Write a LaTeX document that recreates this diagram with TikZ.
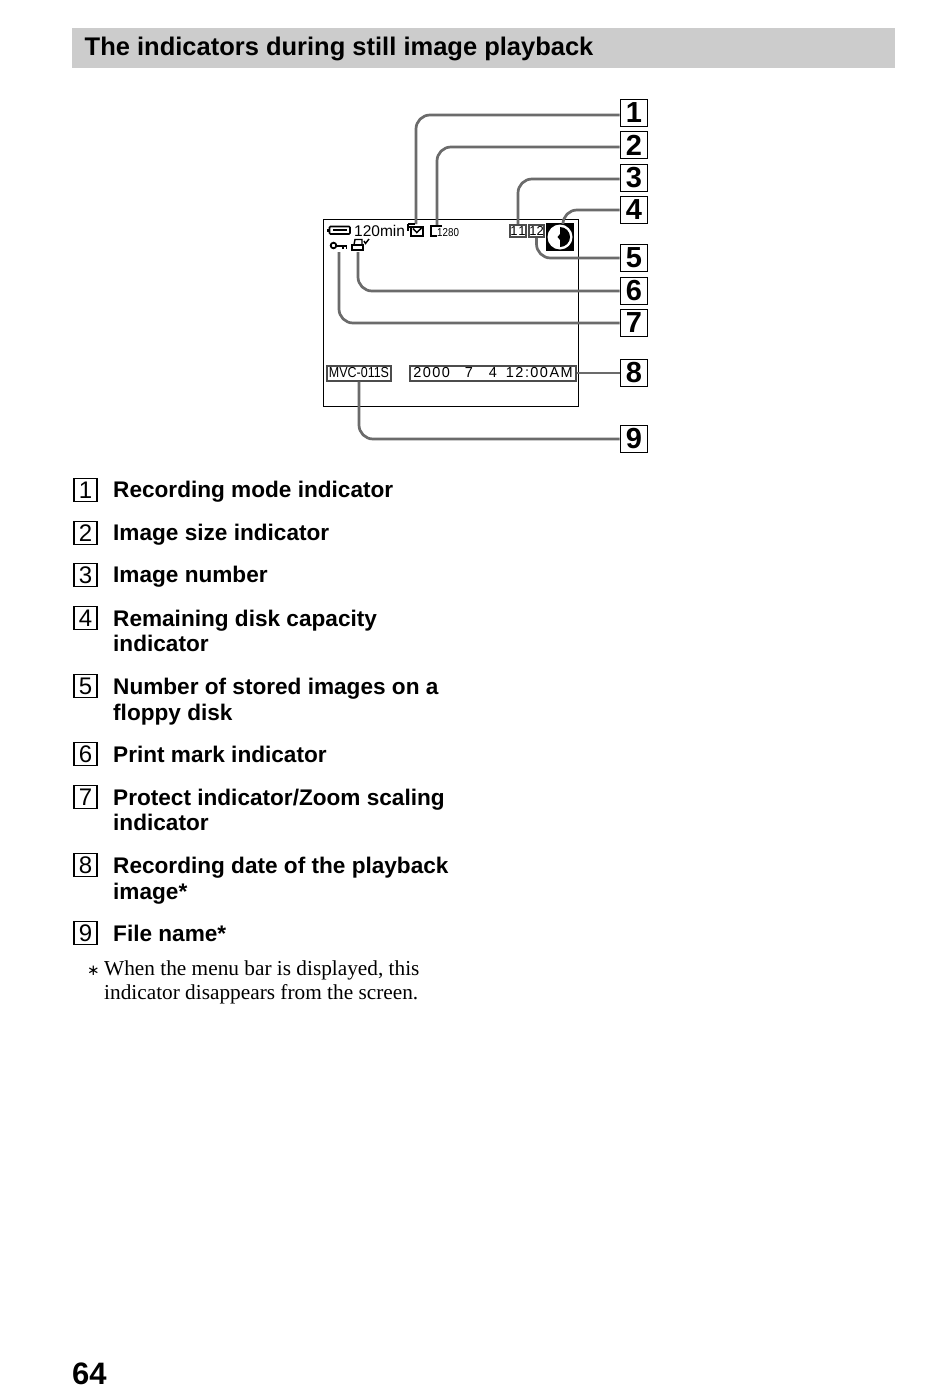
\documentclass[tikz,border=0pt]{standalone}
\usepackage{fontspec}
\setmainfont{Liberation Sans}
\newfontfamily\serifface{Liberation Serif}
\newfontfamily\symface{DejaVu Sans}
\newfontfamily\lcdface[LetterSpace=10]{Liberation Sans}
\usetikzlibrary{calc}
\definecolor{band}{gray}{0.80}
\definecolor{leader}{gray}{0.42}
\newcommand{\fs}[1]{\fontsize{#1}{#1}\selectfont}
\tikzset{
  keybox/.style={draw=black,line width=1.6pt,fill=white,minimum width=27pt,minimum height=27pt,inner sep=0pt,font=\bfseries\fs{29}},
  legendbox/.style={draw=black,line width=1.2pt,minimum width=23pt,minimum height=23pt,inner sep=0pt,font=\fs{24}},
  legendtext/.style={anchor=base west,inner sep=0pt,font=\bfseries\fs{22.6}},
  notetext/.style={anchor=base west,inner sep=0pt,font=\serifface\fs{21.3}},
  leaderline/.style={draw=leader,line width=2.7pt,rounded corners=14pt},
  lcdbox/.style={draw=black!70,line width=2pt,fill=white,inner sep=0pt,minimum height=15pt},
  smallbox/.style={lcdbox,minimum width=15pt,minimum height=12pt,font=\fs{13}},
  icon/.style={draw=black,line width=1.6pt},
}
\begin{document}
\begin{tikzpicture}[x=1pt,y=-1pt]
\useasboundingbox (0,0) rectangle (950,1390);
\fill[white] (0,0) rectangle (950,1390);
% heading
\node[fill=band,minimum width=823pt,minimum height=40pt,inner sep=0pt,anchor=north west] (band) at (72,28) {};
\node[anchor=base west,inner sep=0pt,font=\bfseries\fs{25.5}] (title) at (84.5,55.5) {The indicators during still image playback};
% screen
\node[draw=black,line width=1.4pt,minimum width=254.5pt,minimum height=187pt,inner sep=0pt,anchor=north west] (screen) at (323,218.5) {};
% indicator end points
\coordinate (recmode) at (416,224);
\coordinate (imgsize) at (437,225);
\coordinate (keyicon) at (339,252);
\coordinate (printicon) at (358,252);
% key boxes
\foreach \n/\y in {1/113,2/145,3/178,4/210,5/258,6/291,7/323,8/373,9/439}
  \node[keybox] (k\n) at (634,\y) {\n};
% lcd boxes
\node[smallbox] (num11) at (518,231) {1\hspace{1pt}1};
\node[smallbox] (num12) at (536.5,231) {12};
\node[lcdbox,minimum width=64pt,font=\fs{14.5}] (filename) at (359,373) {\scalebox{0.86}[1]{MVC-011S}};
\node[lcdbox,minimum width=166pt,font=\lcdface\fs{14.5}] (recdate) at (493,373) {2000\hspace{15pt}7\hspace{16pt}4\hspace{9pt}12:00AM};
% disk icon
\node[fill=black,minimum width=27.5pt,minimum height=28pt,inner sep=0pt] (disk) at (560,236.5) {};
\fill[white] (560,237) circle (12.5);
\fill[black] (560,227) arc[start angle=-90,end angle=90,radius=10] -- (560,240) -- (557.5,237) -- (560,234) -- cycle;
% leaders
\draw[leaderline] ([yshift=-2pt]k1.west) -| (recmode);
\draw[leaderline] ([yshift=-2pt]k2.west) -| (imgsize);
\draw[leaderline] ([yshift=-1pt]k3.west) -| (num11.north);
\draw[leaderline] (k4.west) -| ([xshift=3pt]disk.north);
\draw[leaderline] (k5.west) -| (num12.south);
\draw[leaderline] (k6.west) -| (printicon);
\draw[leaderline] (k7.west) -| (keyicon);
\draw[leaderline] (recdate.east) -- (k8.west);
\draw[leaderline] (k9.west) -| (filename.south);
% battery
\draw[icon,rounded corners=1pt] (329.5,226.5) rectangle (350,234);
\fill[black] (327,228.5) rectangle (329.5,232);
\fill[black] (333,229.3) rectangle (347,231.2);
\node[anchor=base west,inner sep=0pt,font=\fs{15.5}] (mins) at (354,236) {120min};
% recording mode icon
\draw[icon,line width=1.9pt] (411,227) rectangle (423,236);
\draw[icon,line width=1.5pt] (413,228.5) -- (416.8,232.5) -- (421.5,228);
\draw[black,line width=1.2pt] (408,224) -- (415,224) (408,227) -- (410,227) (408,224) -- (408,231);
% image size icon
\draw[icon,line width=2pt] (442,226) -- (431,226) -- (431,235.5) -- (436.5,235.5);
\node[anchor=base west,inner sep=0pt,font=\fs{11.5}] (pix) at (437,236) {\scalebox{0.85}[1]{1280}};
% key icon
\draw[icon,line width=1.8pt] (333.5,245.5) circle (2.8);
\draw[icon,line width=2pt] (336,245.5) -- (347,245.5);
\draw[icon,line width=1.4pt] (343,245.5) -- (343,248.5) (346.5,245.5) -- (346.5,248.5);
% print mark
\draw[icon] (352,245) rectangle (363,250);
\draw[icon,line width=1.4pt] (354,245) -- (355,239.5) -- (362,239.5) -- (362,245);
\draw[icon,line width=1.4pt] (364,241) -- (365.5,243.5) -- (369,239);
% legend
\foreach \n/\y in {1/490,2/533,3/575,4/618,5/686,6/754,7/797,8/865,9/933}
  \node[legendbox] (b\n) at (85.5,\y) {\n};
\node[legendtext] (t1) at (113,497.3) {Recording mode indicator};
\node[legendtext] (t2) at (113,540.3) {Image size indicator};
\node[legendtext] (t3) at (113,582.3) {Image number};
\node[legendtext] (t4a) at (113,626.3) {Remaining disk capacity};
\node[legendtext] (t4b) at (113,651.8) {indicator};
\node[legendtext] (t5a) at (113,694.3) {Number of stored images on a};
\node[legendtext] (t5b) at (113,720.3) {floppy disk};
\node[legendtext] (t6) at (113,762.3) {Print mark indicator};
\node[legendtext] (t7a) at (113,805.3) {Protect indicator/Zoom scaling};
\node[legendtext] (t7b) at (113,830.8) {indicator};
\node[legendtext] (t8a) at (113,873.3) {Recording date of the playback};
\node[legendtext] (t8b) at (113,899.3) {image*};
\node[legendtext] (t9) at (113,941.3) {File name*};
\node[notetext,font=\symface\fs{15}] (star) at (87,975) {∗};
\node[notetext] (n1) at (104,975) {When the menu bar is displayed, this};
\node[notetext] (n2) at (104,999) {indicator disappears from the screen.};
\node[anchor=base west,inner sep=0pt,font=\bfseries\fs{31}] (page) at (72,1384) {64};
\end{tikzpicture}
\end{document}
